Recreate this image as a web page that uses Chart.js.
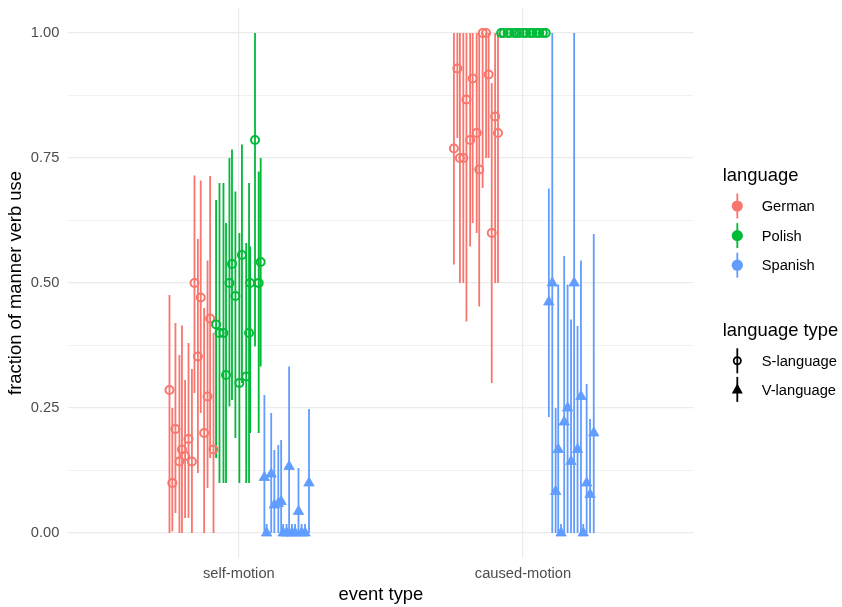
<!DOCTYPE html>
<html><head><meta charset="utf-8">
<script src="https://cdn.jsdelivr.net/npm/chart.js@4/dist/chart.umd.min.js"></script>
<style>
html,body{margin:0;padding:0;background:#fff;}
#wrap{position:relative;width:842px;height:607px;overflow:hidden;}
#c{position:absolute;left:0;top:0;}
#leg{position:absolute;left:0;top:0;pointer-events:none;}
</style>
</head><body>
<div id="wrap"><canvas id="c" width="842" height="607"></canvas><svg id="leg" width="842" height="607" xmlns="http://www.w3.org/2000/svg"></svg></div>
<script>
// ---- data ----
const categories = ['self-motion', 'caused-motion'];
const categoryPositions = [1, 2];
const languages = ['German', 'Polish', 'Spanish'];
const languageTypes = ['S-language', 'V-language'];
const yTickValues = [0, 0.125, 0.25, 0.375, 0.5, 0.625, 0.75, 0.875, 1];
const yTickLabels = ['0.00', '', '0.25', '', '0.50', '', '0.75', '', '1.00'];

const germanEvent  = [0,0,0,0,0,0,0,0,0,0,0,0,0,0,0, 1,1,1,1,1,1,1,1,1,1,1,1,1,1,1];
const germanJitter = [-0.244,-0.234,-0.223,-0.209,-0.200,-0.189,-0.177,-0.165,-0.156,-0.144,-0.134,-0.122,-0.110,-0.101,-0.089,
                      -0.243,-0.231,-0.222,-0.210,-0.199,-0.186,-0.177,-0.163,-0.154,-0.142,-0.130,-0.121,-0.110,-0.098,-0.088];
const germanValue  = [0.286,0.100,0.208,0.143,0.167,0.154,0.188,0.143,0.500,0.353,0.471,0.200,0.273,0.429,0.167,
                      0.769,0.929,0.750,0.750,0.867,0.786,0.909,0.800,0.727,1.000,1.000,0.917,0.600,0.833,0.800];
const germanLower  = [0.000,0.003,0.040,0.000,0.000,0.030,0.030,0.000,0.280,0.120,0.240,0.000,0.090,0.150,0.000,
                      0.537,0.790,0.500,0.500,0.423,0.573,0.620,0.600,0.453,0.690,0.750,0.750,0.300,0.500,0.500];
const germanUpper  = [0.476,0.250,0.420,0.356,0.415,0.306,0.380,0.328,0.715,0.588,0.705,0.450,0.545,0.714,0.400,
                      1.000,1.000,1.000,1.000,1.000,1.000,1.000,1.000,1.000,1.000,1.000,1.000,0.900,1.000,1.000];

const polishEvent  = [0,0,0,0,0,0,0,0,0,0,0,0,0,0,0, 1,1,1,1,1,1,1,1,1,1,1,1,1,1,1];
const polishJitter = [-0.080,-0.068,-0.054,-0.045,-0.033,-0.024,-0.012,0.002,0.011,0.026,0.036,0.040,0.057,0.070,0.077,
                      -0.077,-0.068,-0.054,-0.046,-0.031,-0.022,-0.012,0.002,0.011,0.025,0.034,0.047,0.057,0.070,0.080];
const polishValue  = [0.417,0.400,0.400,0.316,0.500,0.538,0.474,0.300,0.556,0.313,0.400,0.500,0.786,0.500,0.542,
                      1,1,1,1,1,1,1,1,1,1,1,1,1,1,1];
const polishLower  = [0.150,0.100,0.100,0.100,0.253,0.266,0.190,0.100,0.300,0.100,0.100,0.200,0.373,0.200,0.333,
                      1,1,1,1,1,1,1,1,1,1,1,1,1,1,1];
const polishUpper  = [0.666,0.700,0.700,0.620,0.750,0.767,0.683,0.600,0.777,0.580,0.700,0.573,1.000,0.723,0.750,
                      1,1,1,1,1,1,1,1,1,1,1,1,1,1,1];

const spanishEvent  = [0,0,0,0,0,0,0,0,0,0,0,0,0,0,0, 1,1,1,1,1,1,1,1,1,1,1,1,1,1,1];
const spanishJitter = [0.090,0.098,0.114,0.125,0.139,0.149,0.156,0.168,0.177,0.187,0.198,0.210,0.221,0.233,0.247,
                       0.091,0.103,0.115,0.124,0.134,0.145,0.157,0.169,0.180,0.192,0.204,0.212,0.224,0.236,0.249];
const spanishValue  = [0.111,0,0.118,0.056,0.059,0.063,0,0,0.133,0,0,0.043,0,0,0.100,
                       0.462,0.500,0.083,0.167,0,0.222,0.250,0.143,0.500,0.167,0.273,0,0.100,0.077,0.200];
const spanishLower  = [0,0,0,0,0,0,0,0,0,0,0,0,0,0,0,
                       0.232,0,0,0,0,0,0,0,0,0,0,0,0,0,0];
const spanishUpper  = [0.276,0.018,0.240,0.166,0.176,0.186,0.018,0.018,0.333,0.018,0.018,0.130,0.018,0.018,0.248,
                       0.689,1.000,0.250,0.497,0.018,0.554,0.497,0.427,1.000,0.414,0.545,0.018,0.298,0.228,0.598];

// ---- styling ----
const FONT = "'Liberation Sans', Arial, sans-serif";
const groups = [
  {name: languages[0], color: '#F8766D', shape: 'circle',   event: germanEvent,  jitter: germanJitter,  value: germanValue,  lower: germanLower,  upper: germanUpper},
  {name: languages[1], color: '#00BA38', shape: 'circle',   event: polishEvent,  jitter: polishJitter,  value: polishValue,  lower: polishLower,  upper: polishUpper},
  {name: languages[2], color: '#619CFF', shape: 'triangle', event: spanishEvent, jitter: spanishJitter, value: spanishValue, lower: spanishLower, upper: spanishUpper}
];

const datasets = [];
groups.forEach((g, k) => {
  const bars = [];
  const pts = [];
  g.value.forEach((v, i) => {
    const x = categoryPositions[g.event[i]] + g.jitter[i];
    bars.push({x: x, y: g.lower[i]}, {x: x, y: g.upper[i]}, {x: x, y: null});
    pts.push({x: x, y: v});
  });
  datasets.push({
    type: 'scatter', label: g.name + ' range', data: bars, showLine: true, spanGaps: false,
    borderColor: g.color, borderWidth: 1.8, pointRadius: 0, pointHoverRadius: 0,
    borderCapStyle: 'butt', order: 10 - k, clip: false
  });
  const circle = g.shape === 'circle';
  datasets.push({
    type: 'scatter', label: g.name, data: pts,
    pointStyle: g.shape,
    pointRadius: circle ? 4 : 6,
    pointHoverRadius: circle ? 4 : 6,
    pointBorderWidth: circle ? 2 : 0.8,
    pointBorderColor: g.color,
    pointBackgroundColor: circle ? 'rgba(0,0,0,0)' : g.color,
    order: 5 - k, clip: false
  });
});

function zeroPad(s) { s.paddingTop = 0; s.paddingBottom = 0; s.paddingLeft = 0; s.paddingRight = 0; }

new Chart(document.getElementById('c'), {
  type: 'scatter',
  data: {datasets: datasets},
  options: {
    responsive: false, animation: false, devicePixelRatio: 1,
    layout: {padding: {left: 5, top: 8, right: 148.5, bottom: 0}},
    plugins: {legend: {display: false}, tooltip: {enabled: false}},
    events: [],
    scales: {
      x: {
        type: 'linear', min: 0.4, max: 2.6,
        afterBuildTicks: s => { s.ticks = categoryPositions.map(v => ({value: v})); },
        afterFit: s => { s.height = 49; zeroPad(s); },
        ticks: {
          callback: v => categories[categoryPositions.indexOf(v)],
          padding: 7, color: '#4D4D4D', font: {family: FONT, size: 14.7},
          autoSkip: false, maxRotation: 0
        },
        grid: {color: '#EBEBEB', lineWidth: 1.2, drawTicks: false},
        border: {display: false},
        title: {display: true, text: 'event type', color: '#000', font: {family: FONT, size: 18.4}, padding: {top: 0, bottom: 1.5}}
      },
      y: {
        type: 'linear', min: -0.05, max: 1.05,
        afterBuildTicks: s => { s.ticks = yTickValues.map(v => ({value: v})); },
        afterFit: s => { s.width = 63.3; zeroPad(s); },
        ticks: {
          callback: v => yTickLabels[yTickValues.indexOf(v)],
          padding: 9, color: '#4D4D4D', font: {family: FONT, size: 14.7}, autoSkip: false
        },
        grid: {
          color: '#EBEBEB',
          lineWidth: ctx => (ctx.tick && yTickLabels[yTickValues.indexOf(ctx.tick.value)] !== '') ? 1.2 : 0.7,
          drawTicks: false
        },
        border: {display: false},
        title: {display: true, text: 'fraction of manner verb use', color: '#000', font: {family: FONT, size: 18.4}, padding: {top: 0, bottom: 0}}
      }
    }
  }
});

// ---- legend (SVG, real text) ----
const NS = 'http://www.w3.org/2000/svg';
const svg = document.getElementById('leg');
function el(tag, attrs, text) {
  const e = document.createElementNS(NS, tag);
  for (const k in attrs) e.setAttribute(k, attrs[k]);
  if (text !== undefined) e.textContent = text;
  svg.appendChild(e);
  return e;
}
const keyX = 737.3, labelX = 761.7, titleX = 722.7;
el('text', {x: titleX, y: 180.5, 'font-family': FONT, 'font-size': 18.4, fill: '#000'}, 'language');
groups.forEach((g, i) => {
  const cy = 206 + i * 29.6;
  el('line', {x1: keyX, x2: keyX, y1: cy - 12.5, y2: cy + 12.5, stroke: g.color, 'stroke-width': 1.8});
  el('circle', {cx: keyX, cy: cy, r: 5.6, fill: g.color});
  el('text', {x: labelX, y: cy + 5.2, 'font-family': FONT, 'font-size': 14.7, fill: '#000'}, g.name);
});
el('text', {x: titleX, y: 336, 'font-family': FONT, 'font-size': 18.4, fill: '#000'}, 'language type');
languageTypes.forEach((t, i) => {
  const cy = 360.8 + i * 28.6;
  el('line', {x1: keyX, x2: keyX, y1: cy - 12.5, y2: cy + 12.5, stroke: '#000', 'stroke-width': 1.8});
  if (i === 0) {
    el('circle', {cx: keyX, cy: cy, r: 3.6, fill: 'none', stroke: '#000', 'stroke-width': 1.8});
  } else {
    el('polygon', {points: (keyX - 5.5) + ',' + (cy + 4) + ' ' + (keyX + 5.5) + ',' + (cy + 4) + ' ' + keyX + ',' + (cy - 6), fill: '#000'});
  }
  el('text', {x: labelX, y: cy + 5.2, 'font-family': FONT, 'font-size': 14.7, fill: '#000'}, t);
});
</script>
</body></html>
